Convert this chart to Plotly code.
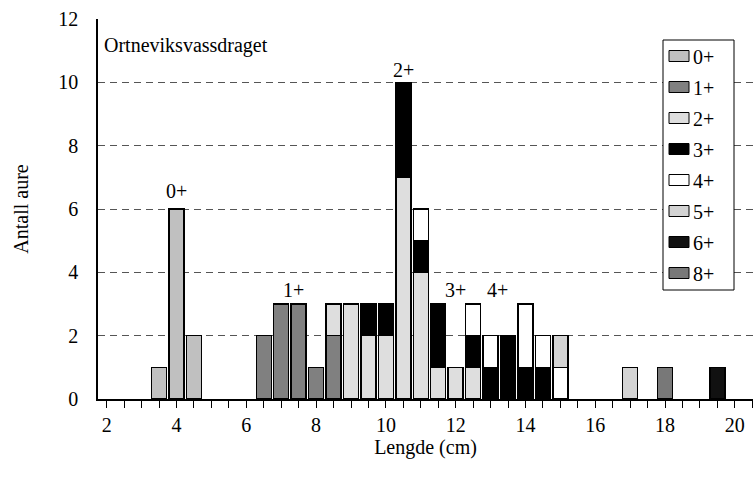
import plotly.graph_objects as go

# Length classes (cm) that contain fish
lengths = [3.5, 4.0, 4.5, 6.5, 7.0, 7.5, 8.0, 8.5, 9.0, 9.5, 10.0, 10.5,
           11.0, 11.5, 12.0, 12.5, 13.0, 13.5, 14.0, 14.5, 15.0, 17.0, 18.0, 19.5]

# Counts per age class
age0 = [1, 6, 2, 0, 0, 0, 0, 0, 0, 0, 0, 0, 0, 0, 0, 0, 0, 0, 0, 0, 0, 0, 0, 0]
age1 = [0, 0, 0, 2, 3, 3, 1, 2, 0, 0, 0, 0, 0, 0, 0, 0, 0, 0, 0, 0, 0, 0, 0, 0]
age2 = [0, 0, 0, 0, 0, 0, 0, 1, 3, 2, 2, 7, 4, 1, 1, 1, 0, 0, 0, 0, 0, 0, 0, 0]
age3 = [0, 0, 0, 0, 0, 0, 0, 0, 0, 1, 1, 3, 1, 2, 0, 1, 1, 2, 1, 1, 0, 0, 0, 0]
age4 = [0, 0, 0, 0, 0, 0, 0, 0, 0, 0, 0, 0, 1, 0, 0, 1, 1, 0, 2, 1, 1, 0, 0, 0]
age5 = [0, 0, 0, 0, 0, 0, 0, 0, 0, 0, 0, 0, 0, 0, 0, 0, 0, 0, 0, 0, 1, 1, 0, 0]
age6 = [0, 0, 0, 0, 0, 0, 0, 0, 0, 0, 0, 0, 0, 0, 0, 0, 0, 0, 0, 0, 0, 0, 0, 1]
age8 = [0, 0, 0, 0, 0, 0, 0, 0, 0, 0, 0, 0, 0, 0, 0, 0, 0, 0, 0, 0, 0, 0, 1, 0]

series_names = ["0+", "1+", "2+", "3+", "4+", "5+", "6+", "8+"]
series_values = [age0, age1, age2, age3, age4, age5, age6, age8]
series_colors = ["#c0c0c0", "#808080", "#dedede", "#000000", "#ffffff",
                 "#d3d3d3", "#111111", "#787878"]

# Axis ticks: one tick per 0.5 cm class, labels on even cm
tick_values = [2 + 0.5 * i for i in range(38)]
tick_labels = [str(int(v)) if v == int(v) and int(v) % 2 == 0 else "" for v in tick_values]

# Age-group labels placed over the peaks
group_labels = ["0+", "1+", "2+", "3+", "4+"]
group_x = [4.0, 7.35, 10.5, 12.0, 13.2]
group_y = [6.57, 3.44, 10.39, 3.44, 3.44]

FONT = "Liberation Serif"
FS = 20

# plot-area geometry (pixels) used to place the hand-drawn legend
W, H = 755, 477
ML, MR, MT, MB = 98, 2, 19, 78
PW, PH = W - ML - MR, H - MT - MB


def px(xp):
    return (xp - ML) / PW


def py(yp):
    return (H - MB - yp) / PH


fig = go.Figure()
for name, vals, col in zip(series_names, series_values, series_colors):
    fig.add_trace(go.Bar(
        x=lengths,
        y=[v if v else None for v in vals],
        name=name,
        marker=dict(color=col, line=dict(color="#000000", width=1.5)),
        width=0.43,
        showlegend=False,
    ))

for t, gx, gy in zip(group_labels, group_x, group_y):
    fig.add_annotation(x=gx, y=gy, xref="x", yref="y", text=t, showarrow=False,
                       font=dict(family=FONT, size=FS, color="#000"))

fig.add_annotation(x=px(102), y=py(45), xref="paper", yref="paper",
                   text="Ortneviksvassdraget", showarrow=False,
                   xanchor="left", yanchor="middle",
                   font=dict(family=FONT, size=FS, color="#000"))

# legend box
fig.add_shape(type="rect", xref="paper", yref="paper",
              x0=px(663), x1=px(734), y0=py(290), y1=py(40),
              line=dict(color="#000", width=1), fillcolor="white", layer="above")
for i, (name, col) in enumerate(zip(series_names, series_colors)):
    yc = 56 + 31 * i
    fig.add_shape(type="rect", xref="paper", yref="paper",
                  x0=px(669), x1=px(689), y0=py(yc + 5.5), y1=py(yc - 5.5),
                  line=dict(color="#000", width=1), fillcolor=col, layer="above")
    fig.add_annotation(x=px(691), y=py(yc + 1), xref="paper", yref="paper",
                       text=name, showarrow=False, xanchor="left", yanchor="middle",
                       font=dict(family=FONT, size=FS, color="#000"))

fig.update_layout(
    width=W, height=H,
    margin=dict(l=ML, r=MR, t=MT, b=MB),
    barmode="stack",
    plot_bgcolor="white", paper_bgcolor="white",
    font=dict(family=FONT, size=FS, color="#000"),
    showlegend=False,
    xaxis=dict(range=[1.75, 20.52], tickmode="array", tickvals=tick_values,
               ticktext=tick_labels, ticks="outside", ticklen=7,
               tickcolor="#000", tickwidth=1, showline=True,
               linecolor="#000", linewidth=1.5, showgrid=False, zeroline=False,
               tickfont=dict(family=FONT, size=FS),
               title=dict(text="Lengde (cm)", standoff=3,
                          font=dict(family=FONT, size=FS))),
    yaxis=dict(range=[0, 12], dtick=2, tick0=0, showgrid=True,
               gridcolor="#555", griddash="7px,5px", gridwidth=1,
               showline=True, linecolor="#000", linewidth=1.5,
               ticks="", zeroline=False, ticklabelstandoff=14,
               tickfont=dict(family=FONT, size=FS),
               title=dict(text="Antall aure", standoff=24,
                          font=dict(family=FONT, size=FS))),
)

fig.write_html("out.html")
